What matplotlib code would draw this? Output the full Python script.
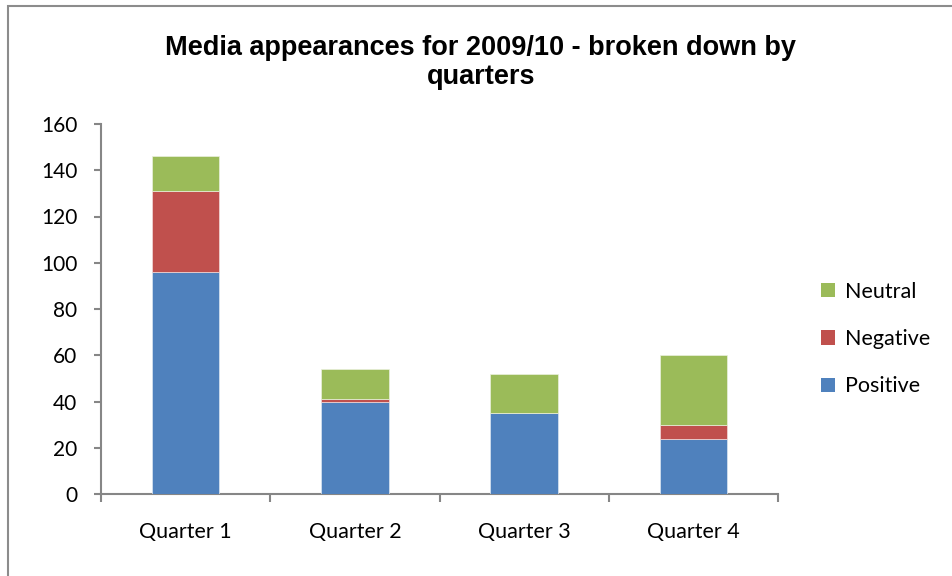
import matplotlib
matplotlib.use("Agg")
import matplotlib.pyplot as plt
from matplotlib.patches import Rectangle, Patch
import numpy as np

quarters = ["Quarter 1", "Quarter 2", "Quarter 3", "Quarter 4"]
positive = [96, 40, 35, 24]
negative = [35, 1, 0, 6]
neutral = [15, 13, 17, 30]
y_ticks = [0, 20, 40, 60, 80, 100, 120, 140, 160]

c_pos = "#4F81BD"
c_neg = "#C0504D"
c_neu = "#9BBB59"
axis_grey = "#868686"

label_font = ["Lato", "DejaVu Sans"]
title_font = ["Liberation Sans", "DejaVu Sans"]

fig = plt.figure(figsize=(9.52, 5.76), dpi=100)
ax = fig.add_axes([101 / 952, 1 - 494 / 576, (778 - 101) / 952, (494 - 124) / 576])

x = np.arange(len(quarters))
pos = np.array(positive)
neg = np.array(negative)
neu = np.array(neutral)
w = 0.4
ax.bar(x, pos, w, color=c_pos, edgecolor="#dce6f2", linewidth=0.5, zorder=3)
ax.bar(x, neg, w, bottom=pos, color=c_neg, edgecolor="#f2dcdb", linewidth=0.5, zorder=3)
ax.bar(x, neu, w, bottom=pos + neg, color=c_neu, edgecolor="#ebf1de", linewidth=0.5, zorder=3)

ax.set_xlim(-0.5, len(quarters) - 0.5)
ax.set_ylim(0, 160)

for s in ["top", "right"]:
    ax.spines[s].set_visible(False)
for s in ["left", "bottom"]:
    ax.spines[s].set_color(axis_grey)
    ax.spines[s].set_linewidth(1.5)

ax.set_yticks(y_ticks)
ax.set_yticklabels([str(v) for v in y_ticks], fontsize=15, family=label_font)
ax.tick_params(axis="y", length=5, width=1.5, color=axis_grey, pad=12)

# category labels centred, tick marks at category boundaries
ax.set_xticks(x)
ax.set_xticklabels(quarters, fontsize=15.5, family=label_font)
ax.tick_params(axis="x", which="major", length=0, pad=20)
ax.set_xticks(np.arange(-0.5, len(quarters), 1.0), minor=True)
ax.tick_params(axis="x", which="minor", length=6, width=1.5, color=axis_grey)

fig.text(0.505, 1 - 48 / 576, "Media appearances for 2009/10 - broken down by",
         ha="center", va="center", fontsize=19.5, fontweight="bold", family=title_font)
fig.text(0.505, 1 - 77.5 / 576, "quarters",
         ha="center", va="center", fontsize=19.5, fontweight="bold", family=title_font)

handles = [Patch(facecolor=c_neu), Patch(facecolor=c_neg), Patch(facecolor=c_pos)]
leg = fig.legend(handles, ["Neutral", "Negative", "Positive"],
                 loc="center left", bbox_to_anchor=(802 / 952, 1 - 339 / 576),
                 frameon=False, prop={"family": label_font, "size": 15.5},
                 handlelength=0.65, handleheight=0.65, handletextpad=0.45,
                 labelspacing=1.27)

# chart area border
fig.add_artist(Rectangle((7.5 / 952, -0.05), 1.2, 1 - 5.5 / 576 + 0.05,
                         transform=fig.transFigure, fill=False,
                         edgecolor="#8c8c8c", linewidth=1.5))

fig.savefig("out.png", dpi=100, facecolor="white")
